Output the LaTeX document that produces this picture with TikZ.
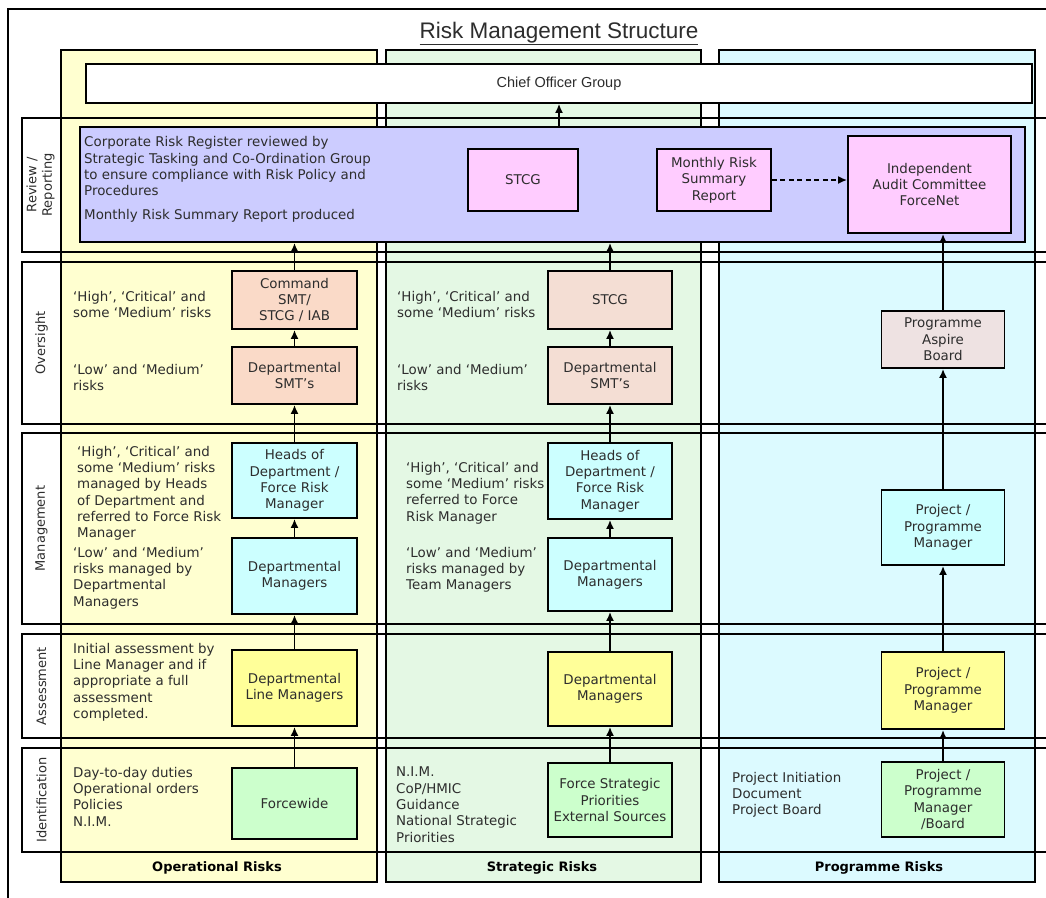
\documentclass[tikz,border=0pt]{standalone}
\usepackage{fontspec}
\setmainfont{DejaVu Sans}
\newfontfamily\titlefont{Liberation Sans}
\usetikzlibrary{arrows.meta}
\definecolor{txtc}{RGB}{45,45,45}
\definecolor{colY}{RGB}{255,255,208}
\definecolor{colG}{RGB}{228,248,228}
\definecolor{colC}{RGB}{220,250,255}
\definecolor{lav}{RGB}{204,204,255}
\definecolor{pinkb}{RGB}{255,204,255}
\definecolor{peach}{RGB}{250,218,200}
\definecolor{beige}{RGB}{244,222,212}
\definecolor{greyp}{RGB}{238,226,226}
\definecolor{cyanb}{RGB}{204,255,255}
\definecolor{yelb}{RGB}{255,255,153}
\definecolor{greb}{RGB}{204,255,204}
\tikzset{
  frame/.style={draw=black, line width=1.6pt},
  colbg/.style={draw=black, line width=1.6pt},
  box/.style={draw=black, line width=1.8pt, align=center, inner sep=0pt, text=txtc,
    font=\fontsize{13.4}{16.3}\selectfont},
  txt/.style={align=left, inner sep=0pt, anchor=north west, text=txtc,
    font=\fontsize{13.4}{16.3}\selectfont},
  rowlab/.style={rotate=90, align=center, inner sep=0pt, text=txtc,
    font=\fontsize{13}{15.5}\selectfont},
  collab/.style={inner sep=0pt, text=black, font=\fontsize{13}{16}\selectfont\bfseries},
  arr/.style={-{Latex[length=9pt,width=8pt]}, line width=1.8pt},
  darr/.style={-{Latex[length=9pt,width=8pt]}, line width=1.8pt, dash pattern=on 5pt off 3.5pt}
}
\begin{document}
\begin{tikzpicture}[x=1pt,y=-1pt]
\useasboundingbox (0,0) rectangle (1046,897);
\clip (0,0) rectangle (1046,897);
\fill[white] (0,0) rectangle (1046,897);
% outer frame
\draw[line width=1.5pt] (8,905) -- (8,9) -- (1060,9);
% title
\node[inner sep=0pt, anchor=base, text=txtc, font=\titlefont\fontsize{22.5}{26}\selectfont] (title) at (559,38) {\underline{Risk Management Structure}};
% columns
\draw[colbg, fill=colY] (61,50) rectangle (377,882);
\draw[colbg, fill=colG] (386,50) rectangle (701,882);
\draw[colbg, fill=colC] (719,50) rectangle (1035,882);
% row frames
\draw[frame] (22,118) rectangle (1070,252);
\draw[frame] (22,262) rectangle (1070,424);
\draw[frame] (22,433) rectangle (1070,624);
\draw[frame] (22,634) rectangle (1070,738);
\draw[frame] (22,748) rectangle (1070,852);
% row labels
\node[rowlab] (lrev) at (40.5,185) {Review /\\Reporting};
\node[rowlab] (lover) at (41.5,343) {Oversight};
\node[rowlab] (lman) at (41.5,528.5) {Management};
\node[rowlab] (lass) at (41.5,686) {Assessment};
\node[rowlab] (lid) at (41.5,800) {Identification};
% column labels
\node[collab] (lop) at (217,868) {Operational Risks};
\node[collab] (lstr) at (542,868) {Strategic Risks};
\node[collab] (lprog) at (879,868) {Programme Risks};
% chief officer group
\node[box, fill=white, line width=1.6pt, minimum width=946pt, minimum height=39pt,
  font=\titlefont\fontsize{14.5}{17}\selectfont] (chief) at (559,83.5) {Chief Officer Group};
% review box
\node[box, fill=lav, minimum width=945pt, minimum height=115pt] (review) at (552.5,184.5) {};
\node[txt] (revtxt) at (84,136.5) {Corporate Risk Register reviewed by\\Strategic Tasking and Co-Ordination Group\\to ensure compliance with Risk Policy and\\Procedures\\[7.7pt]Monthly Risk Summary Report produced};
\node[box, fill=pinkb, minimum width=110pt, minimum height=62pt] (stcga) at (523,180) {STCG};
\node[box, fill=pinkb, minimum width=114pt, minimum height=62pt] (mrsr) at (714,180) {Monthly Risk\\Summary\\Report};
\node[box, fill=pinkb, minimum width=163pt, minimum height=97pt] (iac) at (929.5,184.5) {Independent\\Audit Committee\\ForceNet};
% oversight
\node[box, fill=peach, minimum width=125pt, minimum height=58pt] (cmd) at (294.5,300) {Command\\SMT/\\STCG / IAB};
\node[box, fill=peach, minimum width=125pt, minimum height=57pt] (dsmt) at (294.5,375.5) {Departmental\\SMT’s};
\node[box, fill=beige, minimum width=124pt, minimum height=58pt] (stcgb) at (610,300) {STCG};
\node[box, fill=beige, minimum width=124pt, minimum height=57pt] (dsmtb) at (610,375.5) {Departmental\\SMT’s};
\node[box, fill=greyp, minimum width=123pt, minimum height=57pt] (aspire) at (943,339.5) {Programme\\Aspire\\Board};
\node[txt] (ovh) at (73,291) {‘High’, ‘Critical’ and\\some ‘Medium’ risks};
\node[txt] (ovl) at (73,364) {‘Low’ and ‘Medium’\\risks};
\node[txt] (ovhb) at (397,291) {‘High’, ‘Critical’ and\\some ‘Medium’ risks};
\node[txt] (ovlb) at (397,364) {‘Low’ and ‘Medium’\\risks};
% management
\node[box, fill=cyanb, minimum width=125pt, minimum height=75pt] (hod) at (294.5,480.5) {Heads of\\Department /\\Force Risk\\Manager};
\node[box, fill=cyanb, minimum width=125pt, minimum height=76pt] (dm) at (294.5,576) {Departmental\\Managers};
\node[box, fill=cyanb, minimum width=124pt, minimum height=76pt] (hodb) at (610,481) {Heads of\\Department /\\Force Risk\\Manager};
\node[box, fill=cyanb, minimum width=124pt, minimum height=73pt] (dmb) at (610,574.5) {Departmental\\Managers};
\node[box, fill=cyanb, minimum width=123pt, minimum height=75pt] (ppm) at (943,527.5) {Project /\\Programme\\Manager};
\node[txt] (mh) at (77,446) {‘High’, ‘Critical’ and\\some ‘Medium’ risks\\managed by Heads\\of Department and\\referred to Force Risk\\Manager};
\node[txt] (ml) at (73,547) {‘Low’ and ‘Medium’\\risks managed by\\Departmental\\Managers};
\node[txt] (mhb) at (406,462) {‘High’, ‘Critical’ and\\some ‘Medium’ risks\\referred to Force\\Risk Manager};
\node[txt] (mlb) at (406,547) {‘Low’ and ‘Medium’\\risks managed by\\Team Managers};
% assessment
\node[box, fill=yelb, minimum width=125pt, minimum height=76pt] (dlm) at (294.5,688) {Departmental\\Line Managers};
\node[box, fill=yelb, minimum width=124pt, minimum height=74pt] (dmc) at (610,689) {Departmental\\Managers};
\node[box, fill=yelb, minimum width=123pt, minimum height=77pt] (ppma) at (943,690.5) {Project /\\Programme\\Manager};
\node[txt] (asst) at (73,643) {Initial assessment by\\Line Manager and if\\appropriate a full\\assessment\\completed.};
% identification
\node[box, fill=greb, minimum width=125pt, minimum height=71pt] (fw) at (294.5,803.5) {Forcewide};
\node[box, fill=greb, minimum width=124pt, minimum height=74pt] (fsp) at (610,800) {Force Strategic\\Priorities\\External Sources};
\node[box, fill=greb, minimum width=123pt, minimum height=75pt] (ppmb) at (943,799.5) {Project /\\Programme\\Manager\\/Board};
\node[txt] (ido) at (73,767) {Day-to-day duties\\Operational orders\\Policies\\N.I.M.};
\node[txt] (ids) at (396,767) {N.I.M.\\CoP/HMIC\\Guidance\\National Strategic\\Priorities};
\node[txt] (idp) at (732,772) {Project Initiation\\Document\\Project Board};
% connectors
\draw[arr] (review.north -| chief.south) -- (chief.south);
\draw[arr] (cmd.north) -- (cmd.north |- review.south);
\draw[arr] (dsmt) -- (cmd);
\draw[arr] (hod) -- (dsmt);
\draw[arr] (dm) -- (hod);
\draw[arr] (dlm.north -| dm.south) -- (dm.south);
\draw[arr] (fw.north -| dlm.south) -- (dlm.south);
\draw[arr] (stcgb.north) -- (stcgb.north |- review.south);
\draw[arr] (dsmtb) -- (stcgb);
\draw[arr] (hodb) -- (dsmtb);
\draw[arr] (dmb) -- (hodb);
\draw[arr] (dmc) -- (dmb);
\draw[arr] (fsp) -- (dmc);
\draw[arr] (aspire.north) -- (aspire.north |- iac.south);
\draw[arr] (ppm) -- (aspire);
\draw[arr] (ppma) -- (ppm);
\draw[arr] (ppmb) -- (ppma);
\draw[darr] (mrsr.east) -- (mrsr.east -| iac.west);
\end{tikzpicture}
\end{document}
